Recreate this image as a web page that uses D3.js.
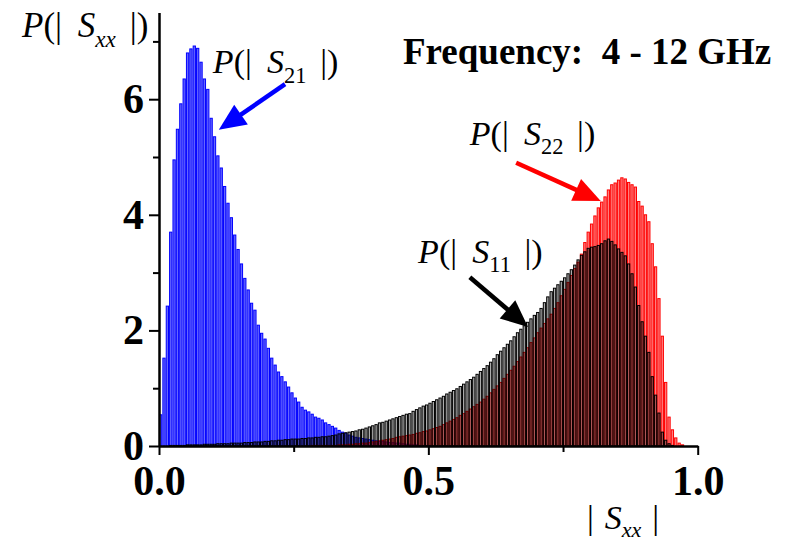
<!DOCTYPE html>
<html>
<head>
	<script src='https://d3js.org/d3.v7.min.js'></script>
	<style type="text/css">
		body { margin: 0; background: #fff; }
		text { font-family: 'Liberation Serif', 'Times New Roman', serif; }
	</style>
</head>
<body>
	<script type="text/javascript">
		/** Histogram data: 160 bins of width 1/160 over |S| = 0..1 **/
		var binWidth = 1 / 160;

		var s21 = [
			0.54,1.52,2.42,3.70,4.95,5.48,5.92,6.35,6.80,6.87,
			6.92,6.88,6.64,6.35,6.17,5.67,5.35,5.02,4.81,4.49,
			4.20,3.95,3.65,3.40,3.15,2.90,2.70,2.47,2.35,2.09,
			1.95,1.85,1.69,1.52,1.40,1.28,1.20,1.11,1.02,0.92,
			0.83,0.76,0.67,0.62,0.59,0.55,0.50,0.48,0.45,0.40,
			0.37,0.34,0.31,0.27,0.24,0.22,0.19,0.17,0.15,0.14,
			0.13,0.12,0.11,0.10,0.09,0.08,0.08,0.07,0.06,0.06,
			0.05,0.05,0.04,0.03,0.03,0.02,0.02,0.01,0.01,0.01,
			0.01
		];

		var s11 = [
			0,0,0,0.01,0.01,0.01,0.01,0.01,0.02,0.02,
			0.02,0.02,0.02,0.03,0.03,0.03,0.03,0.04,0.04,0.04,
			0.04,0.05,0.05,0.05,0.05,0.06,0.06,0.06,0.07,0.07,
			0.07,0.08,0.08,0.09,0.09,0.10,0.10,0.11,0.11,0.12,
			0.12,0.12,0.13,0.13,0.14,0.14,0.15,0.15,0.16,0.16,
			0.17,0.18,0.19,0.21,0.22,0.23,0.24,0.25,0.26,0.28,
			0.29,0.31,0.33,0.35,0.37,0.40,0.41,0.43,0.45,0.47,
			0.49,0.51,0.53,0.55,0.56,0.60,0.63,0.66,0.69,0.71,
			0.74,0.77,0.80,0.83,0.86,0.90,0.93,0.96,0.99,1.03,
			1.07,1.11,1.15,1.19,1.24,1.29,1.34,1.39,1.45,1.51,
			1.58,1.64,1.70,1.76,1.82,1.89,1.96,2.02,2.08,2.14,
			2.20,2.26,2.31,2.38,2.48,2.58,2.67,2.73,2.79,2.85,
			2.91,2.98,3.05,3.13,3.22,3.30,3.36,3.42,3.44,3.45,
			3.47,3.50,3.55,3.58,3.54,3.48,3.41,3.35,3.29,3.15,
			2.98,2.75,2.43,2.15,1.90,1.62,1.20,0.88,0.57,0.24,
			0.10,0.04,0.01
		];

		var s22 = [
			0,0,0,0,0,0,0,0,0,0,
			0,0,0,0,0,0,0,0,0,0,
			0,0,0,0,0,0,0,0,0,0,
			0,0,0,0,0,0,0,0,0,0,
			0,0,0,0,0,0.01,0.01,0.01,0.01,0.01,
			0.01,0.01,0.01,0.02,0.02,0.02,0.03,0.03,0.04,0.04,
			0.05,0.05,0.06,0.07,0.08,0.09,0.10,0.11,0.12,0.13,
			0.15,0.16,0.17,0.18,0.19,0.20,0.22,0.23,0.25,0.26,
			0.28,0.30,0.32,0.34,0.37,0.40,0.43,0.46,0.49,0.53,
			0.56,0.60,0.64,0.68,0.72,0.76,0.81,0.86,0.92,0.98,
			1.04,1.10,1.17,1.24,1.31,1.38,1.46,1.54,1.62,1.70,
			1.79,1.87,1.96,2.04,2.12,2.20,2.28,2.38,2.48,2.60,
			2.71,2.83,2.95,3.07,3.18,3.32,3.52,3.70,3.84,3.98,
			4.12,4.22,4.31,4.43,4.52,4.55,4.60,4.64,4.62,4.56,
			4.52,4.48,4.23,4.15,4.00,3.88,3.50,3.10,2.55,1.90,
			1.10,0.50,0.28,0.14,0.05,0.02
		];

		var xMajor = [0, 0.5, 1.0],
			xMinor = [0.25, 0.75],
			yMajor = [0, 2, 4, 6],
			yMinor = [1, 3, 5, 7];

		var width = 794, height = 543;
		var plot = { left: 159, right: 697.7, top: 12.5, bottom: 446 };

		var x = d3.scaleLinear().domain([0, 1]).range([plot.left, plot.right]);
		var y = d3.scaleLinear().domain([0, 7.5]).range([plot.bottom, plot.top]);

		var svg = d3.select('body')
			.append('svg')
				.attr('width', width)
				.attr('height', height);

		/** Histogram bars **/
		function drawHist(values, color, opacity) {
			svg.append('g')
				.selectAll('rect')
					.data(values.map(function(v, i) { return { i: i, v: v }; })
						.filter(function(d) { return d.v > 0; }))
				.enter().append('rect')
					.attr('x', function(d) { return x(d.i * binWidth) + 0.5; })
					.attr('width', function(d) { return x((d.i + 1) * binWidth) - x(d.i * binWidth) - 1.1; })
					.attr('y', function(d) { return y(d.v); })
					.attr('height', function(d) { return y(0) - y(d.v); })
					.style('fill', color)
					.style('fill-opacity', opacity)
					.style('stroke', color)
					.style('stroke-width', 1);
		}

		drawHist(s21, '#0000ff', 0.6);
		drawHist(s22, '#ff0000', 0.5);
		drawHist(s11, '#000000', 0.32);

		/** Axes **/
		function styleAxis(g) {
			g.select('.domain').attr('stroke-width', 2);
			g.selectAll('.tick line').attr('stroke-width', 2);
			g.selectAll('.tick text')
				.attr('font-family', "'Liberation Serif', serif")
				.attr('font-weight', 'bold')
				.attr('font-size', 42)
				.attr('fill', '#000');
		}

		svg.append('g')
			.attr('transform', 'translate(' + plot.left + ',0)')
			.call(d3.axisLeft(y).tickValues(yMinor).tickSize(6).tickSizeOuter(0).tickFormat(''))
			.call(styleAxis);

		svg.append('g')
			.attr('transform', 'translate(' + plot.left + ',0)')
			.call(d3.axisLeft(y).tickValues(yMajor).tickSize(10).tickPadding(5).tickSizeOuter(0)
				.tickFormat(d3.format('d')))
			.call(styleAxis);

		svg.append('g')
			.attr('transform', 'translate(0,' + plot.bottom + ')')
			.call(d3.axisBottom(x).tickValues(xMinor).tickSize(6).tickSizeOuter(0).tickFormat(''))
			.call(styleAxis);

		svg.append('g')
			.attr('transform', 'translate(0,' + plot.bottom + ')')
			.call(d3.axisBottom(x).tickValues(xMajor).tickSize(9).tickPadding(10).tickSizeOuter(0)
				.tickFormat(d3.format('.1f')))
			.call(styleAxis);

		/** P(|S|) style labels **/
		function sLabel(px, py, size, sub, subItalic) {
			var t = svg.append('text')
				.attr('x', px).attr('y', py)
				.attr('font-size', size)
				.attr('fill', '#000');
			t.append('tspan').attr('font-style', 'italic').text('P');
			t.append('tspan').text('(|');
			t.append('tspan').attr('font-style', 'italic').attr('dx', size * 0.45).text('S');
			t.append('tspan').attr('font-size', size * 0.66).attr('dy', size * 0.28)
				.attr('font-style', subItalic ? 'italic' : 'normal').text(sub);
			t.append('tspan').attr('dy', -size * 0.28).attr('dx', size * 0.4).text('|)');
		}

		sLabel(22, 37, 35, 'xx', true);

		// axis title
		var xt = svg.append('text').attr('x', 587).attr('y', 529).attr('font-size', 34).attr('fill', '#000');
		xt.append('tspan').text('|');
		xt.append('tspan').attr('font-style', 'italic').attr('dx', 11).text('S');
		xt.append('tspan').attr('font-style', 'italic').attr('font-size', 22).attr('dy', 8).text('xx');
		xt.append('tspan').attr('dy', -8).attr('dx', 11).text('|');

		svg.append('text')
			.attr('x', 403).attr('y', 64)
			.attr('font-size', 37)
			.attr('font-weight', 'bold')
			.attr('fill', '#000')
			.attr('xml:space', 'preserve')
			.style('white-space', 'pre')
			.text('Frequency:  4 - 12 GHz');

		/** Annotations, in data units **/
		var labels = [
			{ sub: '21', x: 0.100, y: 6.45 },
			{ sub: '22', x: 0.577, y: 5.21 },
			{ sub: '11', x: 0.481, y: 3.17 }
		];
		labels.forEach(function(d) { sLabel(x(d.x), y(d.y), 34, d.sub, false); });

		var arrows = [
			{ color: '#0000ff', x0: 0.234, y0: 6.26, x1: 0.111, y1: 5.47 },
			{ color: '#ff0000', x0: 0.663, y0: 4.90, x1: 0.820, y1: 4.24 },
			{ color: '#000000', x0: 0.577, y0: 2.92, x1: 0.685, y1: 2.06 }
		];

		arrows.forEach(function(a) {
			var ax = x(a.x0), ay = y(a.y0), bx = x(a.x1), by = y(a.y1);
			var dx = bx - ax, dy = by - ay, len = Math.sqrt(dx * dx + dy * dy);
			var ux = dx / len, uy = dy / len;
			var headL = 27, headW = 12;
			var hx = bx - ux * headL, hy = by - uy * headL;
			svg.append('line')
				.attr('x1', ax).attr('y1', ay)
				.attr('x2', hx + ux * 2).attr('y2', hy + uy * 2)
				.attr('stroke', a.color)
				.attr('stroke-width', 4.5);
			svg.append('path')
				.attr('d', 'M' + bx + ',' + by +
					'L' + (hx - uy * headW) + ',' + (hy + ux * headW) +
					'L' + (hx + uy * headW) + ',' + (hy - ux * headW) + 'Z')
				.attr('fill', a.color);
		});
	</script>
</body>
</html>
